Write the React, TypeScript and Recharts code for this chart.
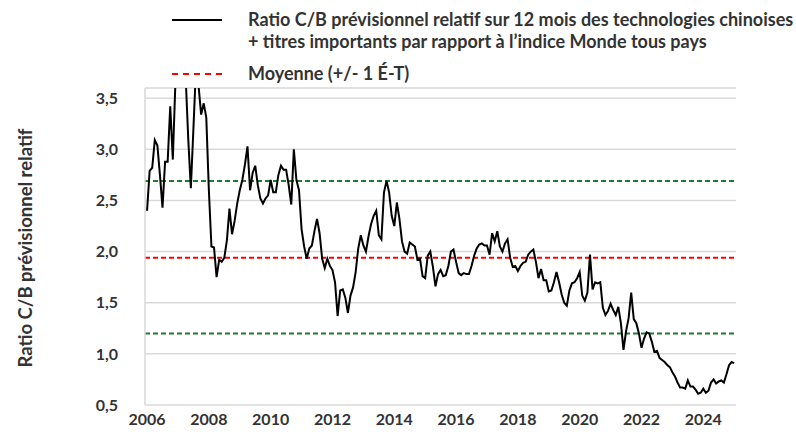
import React from 'react';
import { LineChart, Line, XAxis, YAxis, CartesianGrid, ReferenceLine } from 'recharts';

// monthly values, Jan 2006 .. Jan 2025
const ratio: number[] = [
    2.40, 2.79, 2.82, 3.09, 3.04, 2.75, 2.43, 2.88, 2.88, 3.42, 2.90, 3.65, // 2006
    3.90, 4.10, 4.00, 3.70, 3.10, 2.62, 3.20, 3.80, 3.62, 3.34, 3.45, 3.31, // 2007
    2.60, 2.05, 2.04, 1.75, 1.92, 1.90, 1.94, 2.11, 2.42, 2.17, 2.30, 2.47, // 2008
    2.60, 2.70, 2.85, 3.03, 2.60, 2.77, 2.84, 2.65, 2.52, 2.47, 2.52, 2.55, // 2009
    2.70, 2.58, 2.58, 2.75, 2.84, 2.80, 2.80, 2.65, 2.46, 3.00, 2.70, 2.60, // 2010
    2.22, 2.05, 1.93, 2.03, 2.06, 2.20, 2.32, 2.18, 1.93, 1.84, 1.93, 1.86, // 2011
    1.82, 1.70, 1.37, 1.62, 1.63, 1.55, 1.40, 1.57, 1.65, 1.80, 2.03, 2.16, // 2012
    2.06, 2.00, 2.15, 2.27, 2.35, 2.40, 2.16, 2.12, 2.58, 2.69, 2.58, 2.35, // 2013
    2.25, 2.48, 2.32, 2.10, 2.00, 1.98, 2.09, 2.07, 2.05, 1.92, 1.93, 1.76, // 2014
    1.74, 1.96, 2.00, 1.85, 1.66, 1.78, 1.82, 1.76, 1.77, 1.86, 2.00, 2.02, // 2015
    1.90, 1.79, 1.77, 1.79, 1.78, 1.78, 1.86, 1.96, 2.03, 2.07, 2.08, 2.06, // 2016
    2.06, 1.97, 2.18, 2.10, 2.20, 2.05, 2.00, 2.08, 2.12, 1.94, 1.85, 1.86, // 2017
    1.81, 1.86, 1.89, 1.90, 1.97, 2.00, 2.02, 1.90, 1.74, 1.83, 1.72, 1.72, // 2018
    1.61, 1.62, 1.70, 1.80, 1.70, 1.58, 1.50, 1.47, 1.62, 1.69, 1.70, 1.74, // 2019
    1.80, 1.57, 1.52, 1.60, 1.97, 1.63, 1.70, 1.69, 1.70, 1.45, 1.38, 1.42, // 2020
    1.49, 1.43, 1.38, 1.46, 1.30, 1.04, 1.22, 1.35, 1.60, 1.34, 1.30, 1.20, // 2021
    1.06, 1.15, 1.21, 1.20, 1.12, 1.02, 1.03, 0.96, 0.94, 0.92, 0.89, 0.87, // 2022
    0.82, 0.78, 0.72, 0.67, 0.67, 0.66, 0.74, 0.68, 0.68, 0.65, 0.61, 0.62, // 2023
    0.66, 0.62, 0.64, 0.72, 0.75, 0.71, 0.73, 0.74, 0.72, 0.80, 0.89, 0.92, // 2024
    0.91, // 2025
];

const startYear = 2006;
const yearLabels = [2006, 2008, 2010, 2012, 2014, 2016, 2018, 2020, 2022, 2024];
const yTicks = [0.5, 1.0, 1.5, 2.0, 2.5, 3.0, 3.5];
const mean = 1.94;
const upperBand = 2.69;
const lowerBand = 1.2;

const data = ratio.map((v, i) => ({ i, v }));
const xTicks = yearLabels.map((y) => (y - startYear) * 12);

const FONT = 'Lato, "Open Sans", sans-serif';
const TEXT = '#333333';

export default function App() {
    const tickStyle = { fontFamily: FONT, fontSize: 16, fontWeight: 700, fill: TEXT };
    const legendText: React.CSSProperties = {
        position: 'absolute', left: 248, color: TEXT, fontSize: 18, fontWeight: 700, lineHeight: '22px', whiteSpace: 'nowrap'
    };
    return (
        <div style={{ position: 'absolute', left: 0, top: 0, width: 796, height: 434, background: '#fff', fontFamily: FONT }}>
            {/* legend */}
            <div style={{ position: 'absolute', left: 172, top: 19, width: 50, height: 2, background: '#000' }} />
            <div style={{ ...legendText, top: 8 }}>
                Ratio C/B prévisionnel relatif sur 12 mois des technologies chinoises
                <br />
                + titres importants par rapport à l’indice Monde tous pays
            </div>
            <div style={{ position: 'absolute', left: 172, top: 73, width: 50, height: 0, borderTop: '2px dashed #ff0000' }} />
            <div style={{ ...legendText, top: 62 }}>
                Moyenne (+/- 1 É-T)
            </div>
            {/* y title */}
            <div style={{
                position: 'absolute', left: 25, top: 248, transform: 'translate(-50%, -50%) rotate(-90deg)',
                color: TEXT, fontSize: 18.5, fontWeight: 700, whiteSpace: 'nowrap'
            }}>
                Ratio C/B prévisionnel relatif
            </div>
            <div style={{ position: 'absolute', left: 0, top: 0 }}>
                <LineChart width={796} height={434} data={data} margin={{ top: 88, right: 60, left: 0, bottom: 0 }}>
                    <CartesianGrid vertical={false} stroke="#d9d9d9" strokeWidth={1.5} />
                    <XAxis
                        dataKey="i"
                        type="number"
                        domain={[-0.8, 228.7]}
                        ticks={xTicks}
                        tickFormatter={(t: number) => String(startYear + t / 12)}
                        height={29}
                        axisLine={false}
                        tickLine={false}
                        tickSize={0}
                        tickMargin={9}
                        tick={tickStyle}
                        interval={0}
                    />
                    <YAxis
                        type="number"
                        domain={[0.5, 3.6]}
                        ticks={yTicks}
                        allowDataOverflow
                        width={145}
                        axisLine={{ stroke: '#d9d9d9', strokeWidth: 1.5 }}
                        tickLine={false}
                        tickSize={0}
                        tickMargin={27}
                        tick={tickStyle}
                        tickFormatter={(t: number) => t.toFixed(1).replace('.', ',')}
                        interval={0}
                    />
                    <ReferenceLine y={upperBand} stroke="#1f7a33" strokeWidth={2} strokeDasharray="5 3" />
                    <ReferenceLine y={mean} stroke="#ff0000" strokeWidth={2} strokeDasharray="5 3" />
                    <ReferenceLine y={lowerBand} stroke="#1f7a33" strokeWidth={2} strokeDasharray="5 3" />
                    <Line
                        type="linear"
                        dataKey="v"
                        stroke="#000"
                        strokeWidth={2}
                        dot={false}
                        isAnimationActive={false}
                    />
                </LineChart>
            </div>
        </div>
    );
}
